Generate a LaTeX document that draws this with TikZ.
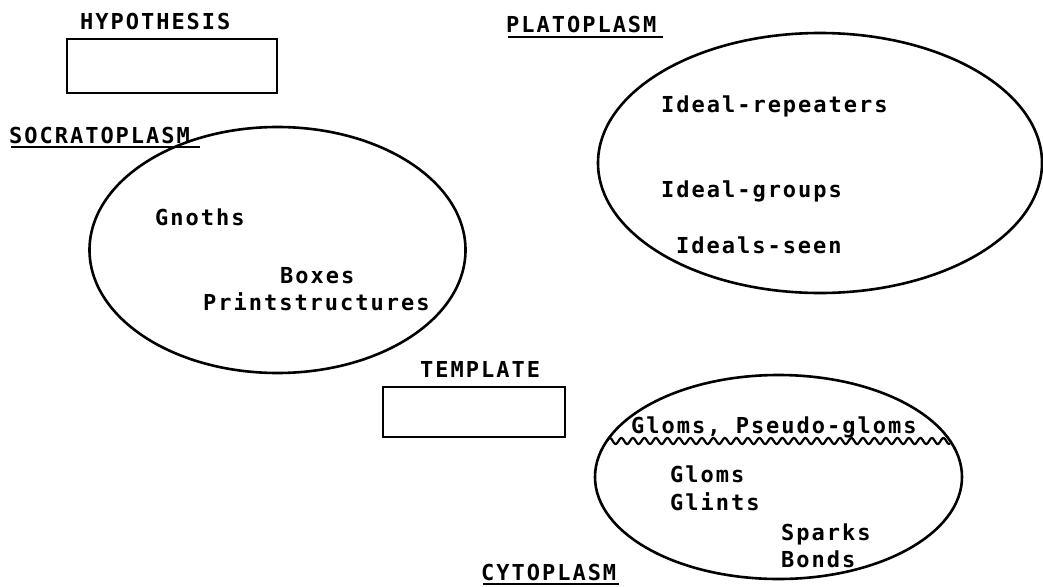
\documentclass[tikz,border=0pt]{standalone}
\usepackage{fontspec}
\usetikzlibrary{shapes.geometric}
\newfontfamily\plotfont[LetterSpace=9]{DejaVu Sans Mono}
\begin{document}
\begin{tikzpicture}[x=1pt,y=-1pt,
  lbl/.style={font=\plotfont\bfseries\fontsize{22}{26}\selectfont, inner sep=0pt, anchor=base west},
  outline/.style={draw, line width=2.6pt},
  blob/.style={outline, ellipse, inner sep=0pt},
  frame/.style={outline, rectangle, inner sep=0pt},
  uline/.style={line width=2.6pt},
  wave/.style={line width=2.2pt}
]
\useasboundingbox (0,0) rectangle (1043,586);
\fill[white] (0,0) rectangle (1043,586);

% HYPOTHESIS
\node[lbl] (hyp) at (80,30) {HYPOTHESIS};
\node[frame, minimum width=210pt, minimum height=54pt] (hypbox) at (172,66) {};

% SOCRATOPLASM
\node[blob, minimum width=376pt, minimum height=246pt] (socr) at (277.5,250) {};
\node[lbl] (socl) at (9,143) {SOCRATOPLASM};
\coordinate (socu1) at (11,147);
\coordinate (socu2) at (200,147);
\draw[uline] (socu1) -- (socu2);
\node[lbl] (gnoths) at (155,225) {Gnoths};
\node[lbl] (boxes) at (280,283) {Boxes};
\node[lbl] (prints) at (203,310) {Printstructures};

% PLATOPLASM
\node[lbl] (platl) at (506,33) {PLATOPLASM};
\coordinate (platu1) at (508,37);
\coordinate (platu2) at (663,37);
\draw[uline] (platu1) -- (platu2);
\node[blob, minimum width=444pt, minimum height=260pt] (plat) at (820,163) {};
\node[lbl] (irep) at (661,112) {Ideal-repeaters};
\node[lbl] (igrp) at (661,197) {Ideal-groups};
\node[lbl] (iseen) at (676,253) {Ideals-seen};

% TEMPLATE
\node[lbl] (templ) at (420,377) {TEMPLATE};
\node[frame, minimum width=182pt, minimum height=50pt] (tbox) at (474,412) {};

% CYTOPLASM
\node[blob, minimum width=367pt, minimum height=204pt] (cyto) at (778.5,477) {};
\draw[wave] plot[domain=0:343, samples=400, smooth] ({\x+607}, {441 - 3*sin(31.3*\x)});
\node[lbl] (pseudo) at (631,433) {Gloms, Pseudo-gloms};
\node[lbl] (gloms) at (670,482) {Gloms};
\node[lbl] (glints) at (670,510) {Glints};
\node[lbl] (sparks) at (781,540) {Sparks};
\node[lbl] (bonds) at (781,567) {Bonds};
\node[lbl] (cytl) at (481,580) {CYTOPLASM};
\coordinate (cytu1) at (483,584);
\coordinate (cytu2) at (619,584);
\draw[uline] (cytu1) -- (cytu2);
\end{tikzpicture}
\end{document}
